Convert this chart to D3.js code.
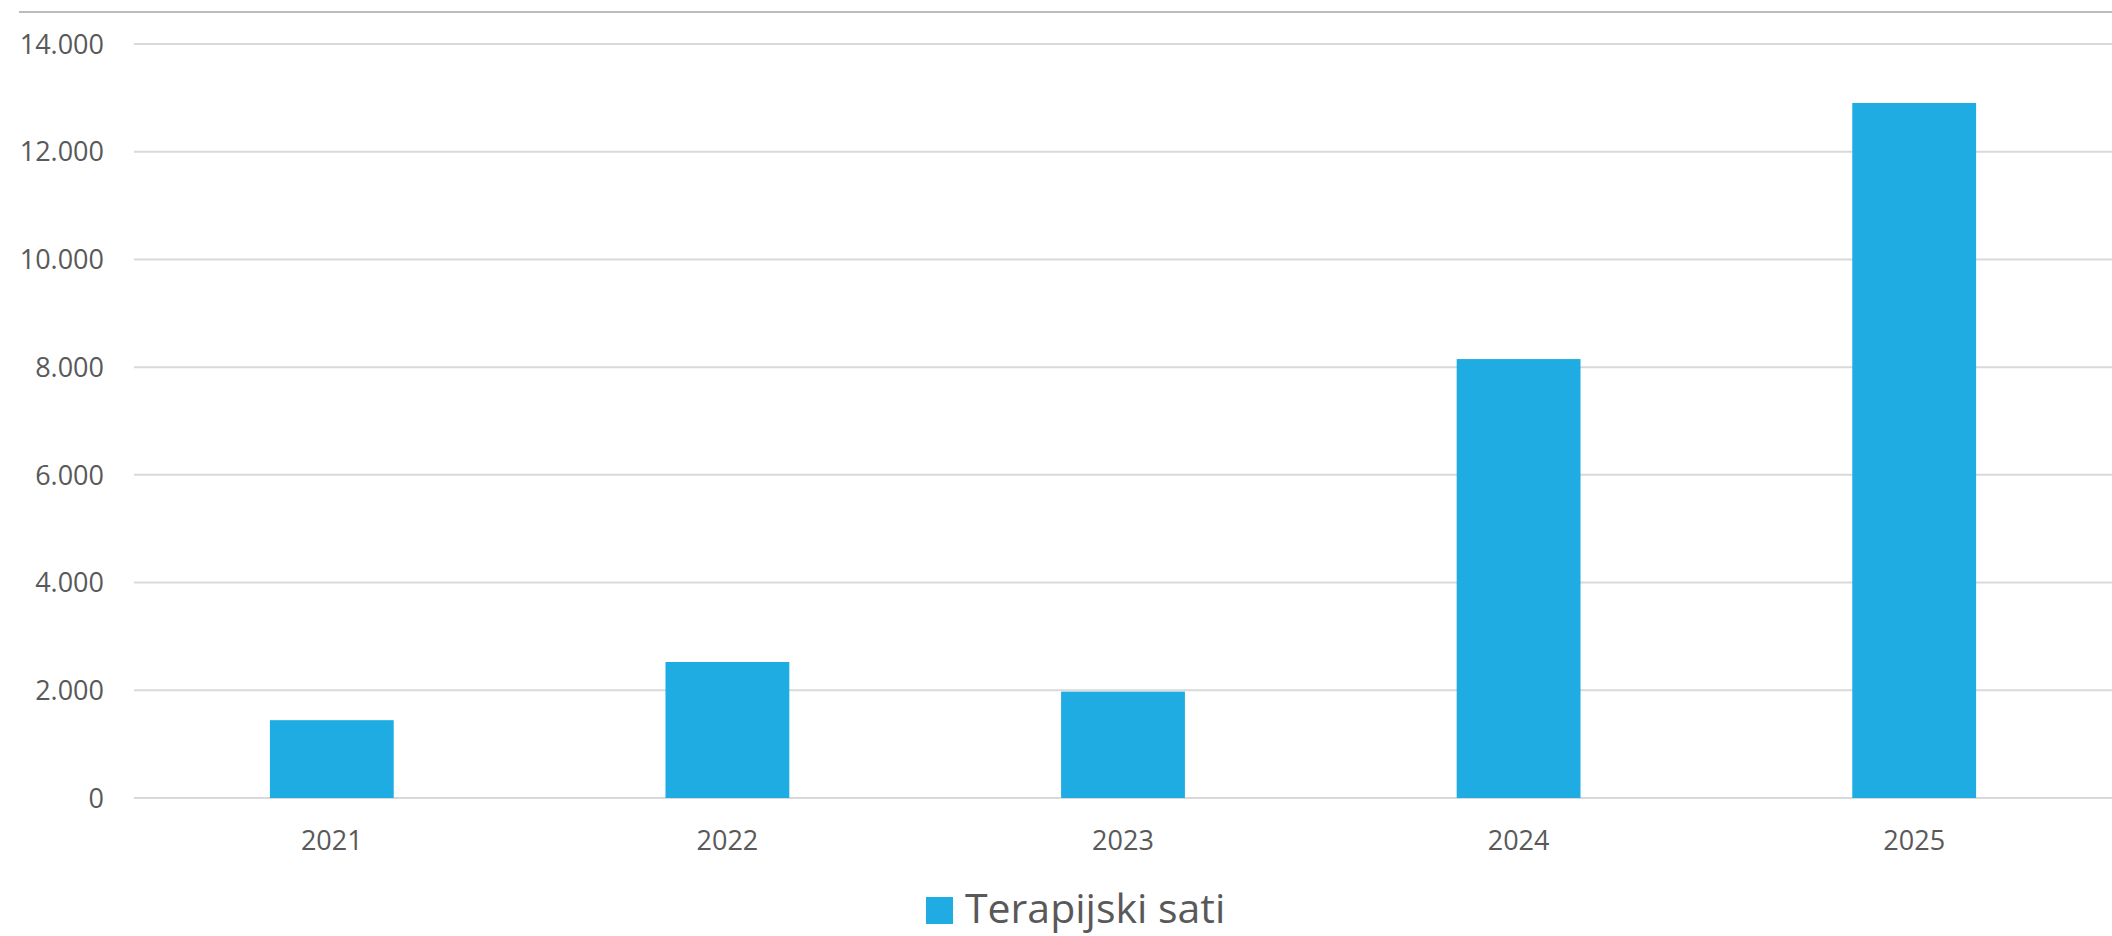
<!DOCTYPE html>
<html>
<head>
<meta charset="utf-8">
<script src="https://cdn.jsdelivr.net/npm/d3@7"></script>
<style>
  html, body { margin: 0; padding: 0; background: #fff; }
  text { font-family: "Open Sans", sans-serif; fill: #595959; }
</style>
</head>
<body>
<div id="chart"></div>
<script>
const years = ["2021", "2022", "2023", "2024", "2025"];
const hours = [1445, 2525, 1975, 8150, 12905];
const yTicks = [0, 2000, 4000, 6000, 8000, 10000, 12000, 14000];
const seriesName = "Terapijski sati";

const width = 2112, height = 936;
const plotLeft = 134, plotRight = 2112, plotTop = 44, plotBottom = 798;

const svg = d3.select("#chart").append("svg")
  .attr("width", width).attr("height", height);

const x = d3.scaleBand().domain(years).range([plotLeft, plotRight])
  .paddingInner(0.687).paddingOuter(0.3435);
const y = d3.scaleLinear().domain([0, 14000]).range([plotBottom, plotTop]);

// border line at top
svg.append("line")
  .attr("x1", 19).attr("x2", 2112).attr("y1", 12).attr("y2", 12)
  .attr("stroke", "#a6a6a6").attr("stroke-width", 1.5);

// gridlines
svg.append("g").selectAll("line").data(yTicks).enter().append("line")
  .attr("x1", plotLeft).attr("x2", plotRight)
  .attr("y1", d => y(d)).attr("y2", d => y(d))
  .attr("stroke", "#d9d9d9").attr("stroke-width", 2);

// y labels
const fmt = d => d3.format(",")(d).replace(/,/g, ".");
svg.append("g").selectAll("text").data(yTicks).enter().append("text")
  .attr("x", 104).attr("y", d => y(d))
  .attr("dy", "0.36em")
  .attr("text-anchor", "end")
  .style("font-size", "27px")
  .text(fmt);

// bars
svg.append("g").selectAll("rect").data(years).enter().append("rect")
  .attr("x", d => x(d))
  .attr("width", x.bandwidth())
  .attr("y", (d, i) => y(hours[i]))
  .attr("height", (d, i) => y(0) - y(hours[i]))
  .attr("fill", "#1eace2");

// x labels
svg.append("g").selectAll("text").data(years).enter().append("text")
  .attr("x", d => x(d) + x.bandwidth() / 2)
  .attr("y", 850)
  .attr("text-anchor", "middle")
  .style("font-size", "27px")
  .text(d => d);

// legend
const lg = svg.append("g");
lg.append("rect").attr("x", 926).attr("y", 897).attr("width", 27).attr("height", 27)
  .attr("fill", "#1eace2");
lg.append("text").attr("x", 965).attr("y", 923)
  .style("font-size", "41px")
  .text(seriesName);
</script>
</body>
</html>
